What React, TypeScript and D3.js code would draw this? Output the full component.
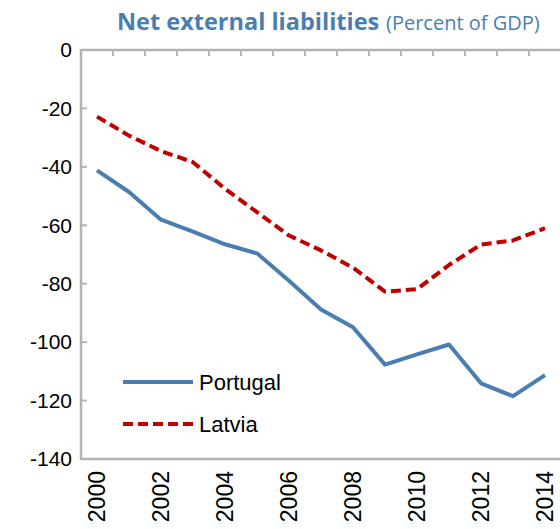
import React from "react";
import * as d3 from "d3";

const years = [2000, 2001, 2002, 2003, 2004, 2005, 2006, 2007, 2008, 2009, 2010, 2011, 2012, 2013, 2014];
const portugal = [-41.2, -48.6, -58.1, -62.2, -66.5, -69.6, -79.0, -88.8, -94.9, -107.7, -104.2, -100.8, -114.1, -118.5, -111.3];
const latvia = [-22.8, -29.3, -34.6, -38.4, -47.5, -55.5, -63.5, -68.6, -74.5, -82.7, -81.9, -73.6, -66.6, -65.2, -61.0];
const yTicks = [0, -20, -40, -60, -80, -100, -120, -140];
const xLabelYears = [2000, 2002, 2004, 2006, 2008, 2010, 2012, 2014];

export default function App() {
  const W = 560, H = 529;
  const left = 81, top = 50, bottom = 459;
  const x = d3.scaleLinear().domain([1999.5, 2014.5]).range([left, left + 480]);
  const y = d3.scaleLinear().domain([0, -140]).range([top, bottom]);
  const line = d3.line<number>().x((_, i) => x(years[i])).y((d) => y(d));
  const axisColor = "#b3b3b3";
  const boundaries = d3.range(2000.5, 2014.5, 1);
  return (
    <svg width={W} height={H} style={{ position: "absolute", left: 0, top: 0 }}>
      <rect width={W} height={H} fill="#fff" />
      <text x={117} y={30} fontFamily="'Open Sans', sans-serif" fill="#4a7eb0" fontWeight="bold" fontSize={23.5}>
        Net external liabilities
      </text>
      <text x={386} y={30} fontFamily="'Open Sans', sans-serif" fill="#4a7eb0" fontSize={20}>
        (Percent of GDP)
      </text>
      {/* y ticks and labels */}
      {yTicks.map((t) => (
        <g key={t}>
          <line x1={left} x2={left + 6} y1={y(t)} y2={y(t)} stroke={axisColor} strokeWidth={2} />
          <text x={72} y={y(t)} dy="0.35em" textAnchor="end" fontFamily="Arial, 'Liberation Sans', sans-serif" fontSize={21} fill="#000">
            {t}
          </text>
        </g>
      ))}
      {/* x axis at 0 with inner ticks */}
      {boundaries.map((b) => (
        <line key={b} x1={x(b)} x2={x(b)} y1={top} y2={top + 6} stroke={axisColor} strokeWidth={2} />
      ))}
      <line x1={left} x2={left + 480} y1={top} y2={top} stroke={axisColor} strokeWidth={2.5} />
      <line x1={left} x2={left + 480} y1={bottom} y2={bottom} stroke={axisColor} strokeWidth={2.5} />
      <line x1={left} x2={left} y1={top - 1} y2={bottom + 1} stroke={axisColor} strokeWidth={2.5} />
      {/* x labels */}
      {xLabelYears.map((yr) => (
        <text
          key={yr}
          transform={`translate(${x(yr)},${471}) rotate(-90)`}
          textAnchor="end"
          dy="0.35em"
          fontFamily="Arial, 'Liberation Sans', sans-serif"
          fontSize={23}
          fill="#000"
        >
          {yr}
        </text>
      ))}
      {/* series */}
      <path d={line(latvia) || ""} fill="none" stroke="#c00000" strokeWidth={4} strokeDasharray="10,5" strokeLinejoin="round" />
      <path d={line(portugal) || ""} fill="none" stroke="#4a7eb0" strokeWidth={4} strokeLinejoin="round" />
      {/* legend */}
      <line x1={123} x2={193} y1={382} y2={382} stroke="#4a7eb0" strokeWidth={4} />
      <text x={199} y={382} dy="0.35em" fontFamily="Arial, 'Liberation Sans', sans-serif" fontSize={22} fill="#000">Portugal</text>
      <line x1={123} x2={193} y1={424} y2={424} stroke="#c00000" strokeWidth={4} strokeDasharray="10,5" />
      <text x={199} y={424} dy="0.35em" fontFamily="Arial, 'Liberation Sans', sans-serif" fontSize={22} fill="#000">Latvia</text>
    </svg>
  );
}
